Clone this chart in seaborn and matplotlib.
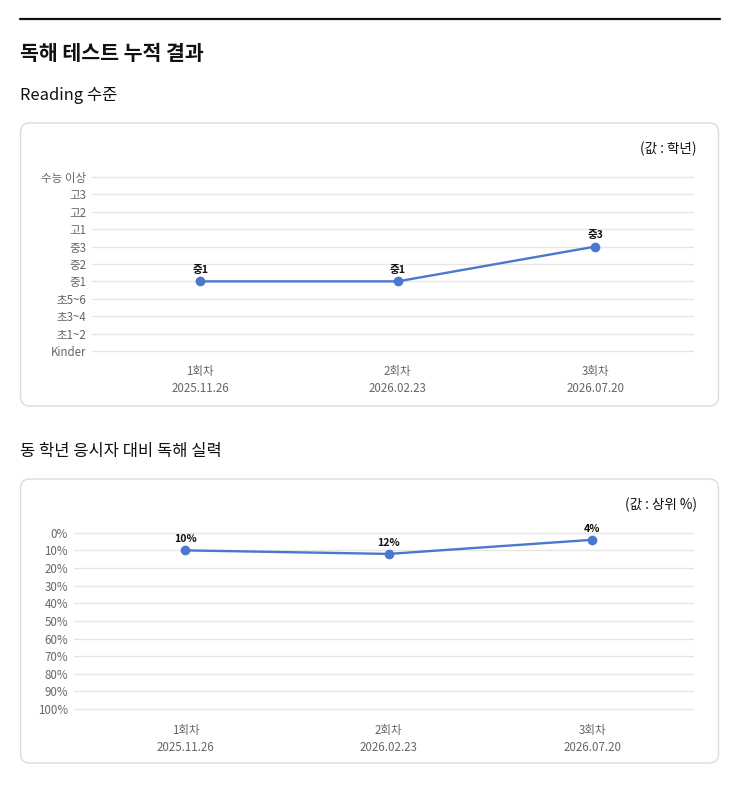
import matplotlib
matplotlib.use("Agg")
import matplotlib.pyplot as plt
import seaborn as sns
import pandas as pd
from matplotlib.patches import FancyBboxPatch
from matplotlib.lines import Line2D

# ---- data ----
sessions = ["1회차\n2025.11.26", "2회차\n2026.02.23", "3회차\n2026.07.20"]
grade_levels = ["Kinder", "초1~2", "초3~4", "초5~6", "중1", "중2", "중3",
                "고1", "고2", "고3", "수능 이상"]
reading_level = [4, 4, 6]          # index into grade_levels
percentile = [10, 12, 4]           # 상위 %
pct_ticks = list(range(0, 101, 10))

sns.set_theme(style="white")
plt.rcParams['font.family'] = ['Noto Sans CJK KR', 'DejaVu Sans']

W, H = 743, 808
fig = plt.figure(figsize=(W / 100, H / 100), dpi=100)

LINE = "#4a78cf"
GRID = "#e6e6e6"
TICK = "#666666"


def ax_at(x0, y0, x1, y1):
    # pixel box (top-left origin) -> figure axes
    ax = fig.add_axes([x0 / W, 1 - y1 / H, (x1 - x0) / W, (y1 - y0) / H])
    ax.set_zorder(3)
    return ax


def panel(y0, y1):
    fig.patches.append(FancyBboxPatch((20.5 / W, 1 - y1 / H), 698 / W, (y1 - y0) / H,
                                      boxstyle="round,pad=0,rounding_size=0.012",
                                      transform=fig.transFigure, facecolor="white",
                                      edgecolor="#dcdcdc", linewidth=1.0, zorder=-1))


def style(ax):
    ax.set_facecolor("none")
    for s in ax.spines.values():
        s.set_visible(False)
    ax.grid(axis="y", color=GRID, linewidth=1.0)
    ax.grid(axis="x", visible=False)
    ax.tick_params(axis="both", length=0, colors=TICK, labelsize=8.3)
    ax.tick_params(axis="x", pad=7)
    ax.tick_params(axis="y", pad=4)
    ax.set_xlim(-0.55, 2.5)
    ax.set_xlabel("")
    ax.set_ylabel("")
    for t in ax.get_xticklabels():
        t.set_linespacing(1.4)


# header
fig.add_artist(Line2D([20 / W, 720 / W], [1 - 19 / H, 1 - 19 / H], color="#111111",
                      linewidth=1.6, transform=fig.transFigure))
fig.text(20 / W, 1 - 53 / H, "독해 테스트 누적 결과", fontsize=14.8, fontweight="bold",
         va="center", ha="left", color="#111111")
fig.text(20 / W, 1 - 96 / H, "Reading 수준", fontsize=11.9, va="center", ha="left",
         color="#111111")
fig.text(20 / W, 1 - 451 / H, "동 학년 응시자 대비 독해 실력", fontsize=11.9, va="center",
         ha="left", color="#111111")

panel(123, 406)
panel(479, 763)

# ---- chart 1: reading level ----
df1 = pd.DataFrame({"x": range(len(sessions)), "level": reading_level})
ax1 = ax_at(91.5, 170, 694, 355)
sns.lineplot(data=df1, x="x", y="level", ax=ax1, color=LINE, linewidth=1.7,
             marker="o", markersize=7, markeredgewidth=0)
ax1.set_ylim(-0.23, 10.4)
ax1.set_yticks(range(len(grade_levels)))
ax1.set_yticklabels(grade_levels)
ax1.set_xticks(range(len(sessions)))
ax1.set_xticklabels(sessions)
style(ax1)
for i, v in enumerate(reading_level):
    ax1.annotate(grade_levels[v], (i, v), xytext=(0, 4.5), textcoords="offset points",
                 ha="center", va="bottom", fontsize=7.6, fontweight="bold", color="#111111")
fig.text(697 / W, 1 - 149 / H, "(값 : 학년)", fontsize=9.8, ha="right", va="center",
         color="#111111", zorder=4)

# ---- chart 2: percentile ----
df2 = pd.DataFrame({"x": range(len(sessions)), "pct": percentile})
ax2 = ax_at(73.5, 525, 694, 714)
sns.lineplot(data=df2, x="x", y="pct", ax=ax2, color=LINE, linewidth=1.7,
             marker="o", markersize=7, markeredgewidth=0)
ax2.set_ylim(102.8, -4.4)
ax2.set_yticks(pct_ticks)
ax2.set_yticklabels([f"{p}%" for p in pct_ticks])
ax2.set_xticks(range(len(sessions)))
ax2.set_xticklabels(sessions)
style(ax2)
for i, v in enumerate(percentile):
    ax2.annotate(f"{v}%", (i, v), xytext=(0, 4.5), textcoords="offset points",
                 ha="center", va="bottom", fontsize=7.6, fontweight="bold", color="#111111")
fig.text(697 / W, 1 - 505 / H, "(값 : 상위 %)", fontsize=9.8, ha="right", va="center",
         color="#111111", zorder=4)

fig.savefig("out.png", dpi=100, facecolor="white")
